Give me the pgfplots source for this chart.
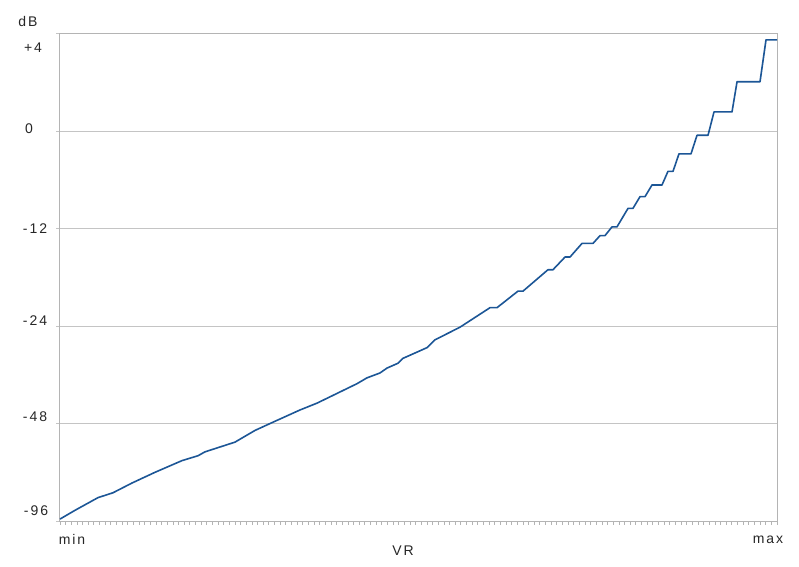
\documentclass[border=0pt]{standalone}
\usepackage{pgfplots}
\pgfplotsset{compat=1.18}
\usepackage{pgfplotstable}
\usepackage{fontspec}
\setmainfont{Liberation Sans}[LetterSpace=14]
\definecolor{gridgray}{RGB}{196,196,196}
\definecolor{axgray}{RGB}{180,180,180}
\definecolor{curvec}{RGB}{28,86,150}

% x: VR position (0 = min, 127 = max); y: grid level (0=-96, 1=-48, 2=-24, 3=-12, 4=0, 5=+4 dB)
\pgfplotstableread{
x y
0 0.02
2.66 0.11
6.73 0.24
9.39 0.29
12.75 0.39
16.83 0.50
21.61 0.62
24.44 0.67
25.68 0.71
31.0 0.81
34.54 0.93
37.55 1.01
42.51 1.14
45.52 1.21
48.36 1.29
52.61 1.41
54.38 1.47
56.68 1.52
57.92 1.57
59.87 1.62
60.75 1.67
65.01 1.78
66.42 1.86
70.85 1.99
76.16 2.19
77.40 2.19
81.12 2.36
82.01 2.36
86.44 2.58
87.32 2.58
89.45 2.71
90.33 2.71
92.46 2.85
94.41 2.85
95.65 2.93
96.53 2.93
97.78 3.02
98.66 3.02
100.61 3.21
101.49 3.21
102.73 3.33
103.62 3.33
104.86 3.45
106.63 3.45
107.69 3.59
108.58 3.59
109.64 3.77
111.77 3.77
112.83 3.96
114.78 3.96
115.84 4.20
119.03 4.20
119.92 4.51
123.99 4.51
125.05 4.94
127 4.94
}\curvedata

\begin{document}
\begin{tikzpicture}
\useasboundingbox (-60pt,-45pt) rectangle (739pt,521pt);
\begin{axis}[
  at={(0pt,0pt)}, anchor=south west,
  scale only axis, width=717pt, height=487pt,
  xmin=0, xmax=127, ymin=0, ymax=5,
  axis line style={axgray, line width=1pt},
  xtick={0,...,127}, xticklabels={},
  ytick={0,...,5}, yticklabels={},
  xtick pos=bottom, ytick pos=left,
  tick align=outside,
  major tick length=3.5pt,
  xtick style={axgray, line width=0.8pt},
  ytick style={gridgray, line width=1pt},
  ymajorgrids, grid style={gridgray, line width=1pt},
  clip=false,
]
\addplot[curvec, line width=1.6pt, line join=round, no markers] table {\curvedata};
\end{axis}
\begin{scope}[every node/.style={font=\fontsize{14}{16}\selectfont, text=black!85, inner sep=0pt}]
\node at (-32pt,500pt) {dB};
\node at (-27pt,473.5pt) {+4};
\node at (-31pt,392pt) {0};
\node at (-25pt,292pt) {-12};
\node at (-25pt,200pt) {-24};
\node at (-25pt,104pt) {-48};
\node at (-24pt,10pt) {-96};
\node at (12pt,-18pt) {min};
\node at (708pt,-19pt) {max};
\node at (343pt,-30pt) {VR};
\end{scope}
\end{tikzpicture}
\end{document}
